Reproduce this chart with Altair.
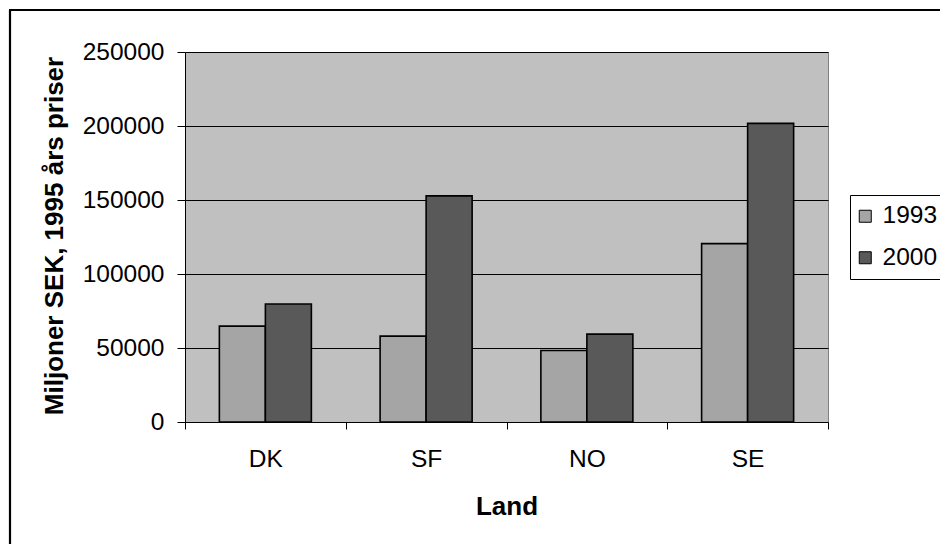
import altair as alt
import pandas as pd

# Bar values (million SEK, 1995 prices)
countries = ["DK", "SF", "NO", "SE"]
years = ["1993", "2000"]
v1993 = [64800, 58000, 48300, 120500]
v2000 = [79700, 152800, 59400, 201800]
y_ticks = [0, 50000, 100000, 150000, 200000, 250000]

rows = []
for c, a, b in zip(countries, v1993, v2000):
    rows.append({"Land": c, "År": years[0], "Värde": a})
    rows.append({"Land": c, "År": years[1], "Värde": b})
df = pd.DataFrame(rows)

FONT = "Liberation Sans"
W, H = 643, 370

bars = alt.Chart(df).mark_bar(stroke="black", strokeWidth=1.6).encode(
    x=alt.X(
        "Land:N",
        sort=countries,
        scale=alt.Scale(paddingInner=0, paddingOuter=0),
        axis=alt.Axis(
            title="Land",
            labelAngle=0,
            labelFontSize=24.5,
            labelPadding=18,
            tickSize=7,
            tickBand="extent",
            tickColor="black",
            domainColor="black",
            titleFontSize=26,
            titleFontWeight="bold",
            titleY=71,
            titleBaseline="top",
        ),
    ),
    xOffset=alt.XOffset(
        "År:N",
        sort=years,
        scale=alt.Scale(paddingInner=0, paddingOuter=0.747),
    ),
    y=alt.Y(
        "Värde:Q",
        scale=alt.Scale(domain=[0, 250000], nice=False),
        axis=alt.Axis(
            title="Miljoner SEK, 1995 års priser",
            values=y_ticks,
            format="d",
            labelFontSize=24.5,
            labelPadding=13,
            tickSize=8,
            tickColor="black",
            domainColor="black",
            grid=True,
            gridColor="black",
            gridWidth=1,
            titleFontSize=26,
            titleFontWeight="bold",
            titleAngle=270,
            titleX=-123,
            titleY=183.5,
            titleAlign="center",
            titleBaseline="alphabetic",
        ),
    ),
    color=alt.Color(
        "År:N",
        sort=years,
        scale=alt.Scale(domain=years, range=["#A5A5A5", "#595959"]),
        legend=alt.Legend(
            title=None,
            orient="none",
            legendX=665,
            legendY=143,
            padding=9,
            strokeColor="black",
            fillColor="white",
            symbolType="square",
            symbolSize=144,
            symbolStrokeColor="black",
            symbolStrokeWidth=1,
            symbolOffset=-6,
            labelFontSize=24.5,
            labelOffset=5,
            labelExpr="datum.label + '   '",
            rowPadding=16.5,
        ),
    ),
)

# Outer frame of the chart (left and top edges)
frame_df = pd.DataFrame({"k": [0]})
frame_left = alt.Chart(frame_df).mark_rule(color="black", strokeWidth=2.2).encode(
    x=alt.value(-175), y=alt.value(-42), y2=alt.value(520)
)
frame_top = alt.Chart(frame_df).mark_rule(color="black", strokeWidth=2.2).encode(
    x=alt.value(-176), x2=alt.value(800), y=alt.value(-42)
)

chart = alt.layer(bars, frame_left, frame_top).properties(
    width=W,
    height=H,
    autosize=alt.AutoSizeParams(type="none"),
    padding={"left": 185, "top": 52, "right": 112, "bottom": 122},
    background="white",
).configure_view(
    fill="#C0C0C0", stroke="#808080", strokeWidth=1
).configure_axis(
    labelFont=FONT, titleFont=FONT, labelColor="black", titleColor="black"
).configure_legend(
    labelFont=FONT, labelColor="black"
)

chart.save("out.html", embed_options={"renderer": "svg", "actions": False})
